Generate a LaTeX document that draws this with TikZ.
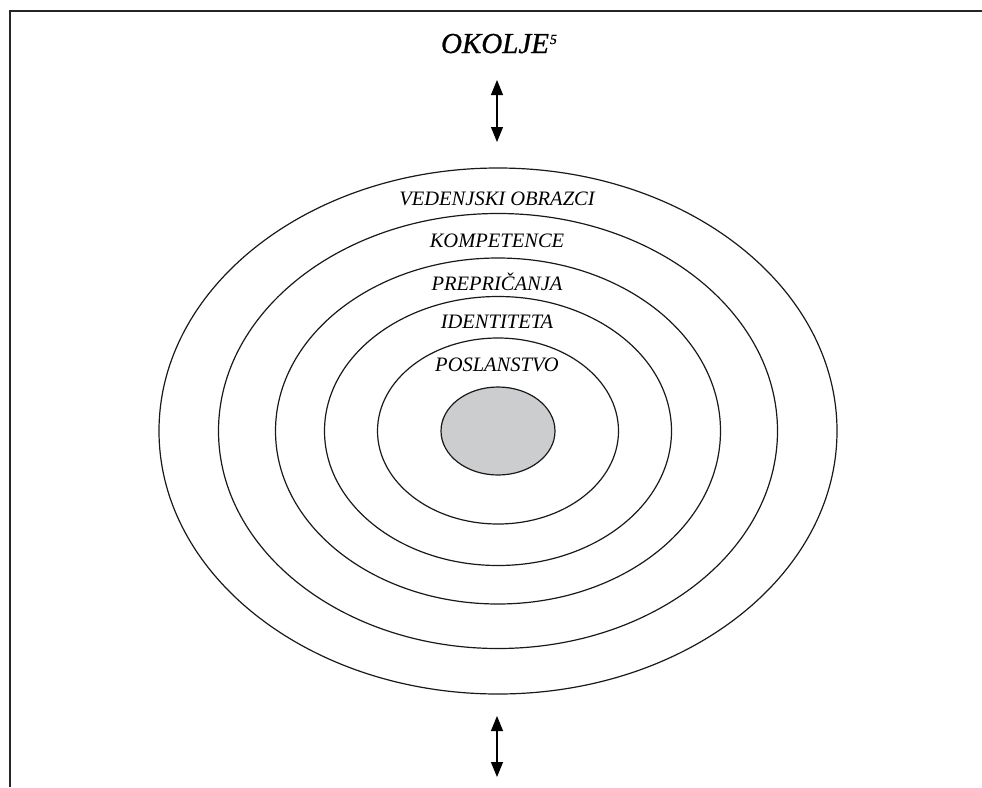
\documentclass[tikz,border=0pt]{standalone}
\usepackage{fontspec}
\setmainfont{Liberation Serif}
\newfontfamily\headfont{Liberation Serif}[ItalicFeatures={FakeBold=0.8}]
\usetikzlibrary{shapes.geometric,arrows.meta}
\definecolor{coregray}{RGB}{204,205,207}
\tikzset{
  ring/.style={draw=black!90, line width=1.2pt, ellipse, inner sep=0pt},
  layerlabel/.style={font=\fontsize{20.5}{22}\selectfont\itshape, anchor=base, inner sep=0pt},
  twoway/.style={line width=1.1pt, {Triangle[length=15pt,width=12pt]}-{Triangle[length=15pt,width=12pt]}},
  frameline/.style={draw=black!85, line width=2pt}
}
\begin{document}
\begin{tikzpicture}[x=1pt,y=-1pt]
  \useasboundingbox (0,0) rectangle (982,787);
  % open frame: top and left edges only
  \coordinate (ftr) at (982,11);
  \coordinate (ftl) at (9.5,11);
  \coordinate (fbl) at (9.5,787);
  \draw[frameline] (ftr) -- (ftl) -- (fbl);

  % concentric layers
  \coordinate (c) at (498,431);
  \node[ring, minimum width=678pt, minimum height=526pt] (vedenje) at (c) {};
  \node[ring, minimum width=559pt, minimum height=435pt] (kompetence) at (c) {};
  \node[ring, minimum width=445pt, minimum height=346pt] (prepricanja) at (c) {};
  \node[ring, minimum width=347pt, minimum height=269pt] (identiteta) at (c) {};
  \node[ring, minimum width=241pt, minimum height=186pt] (poslanstvo) at (c) {};
  \node[ring, fill=coregray, minimum width=114pt, minimum height=88pt] (jedro) at (c) {};

  % layer names
  \node[layerlabel] (tv) at (497,205) {VEDENJSKI OBRAZCI};
  \node[layerlabel] (tk) at (497,247) {KOMPETENCE};
  \node[layerlabel] (tp) at (497,290) {PREPRIČANJA};
  \node[layerlabel] (ti) at (497,328) {IDENTITETA};
  \node[layerlabel] (ts) at (497,371) {POSLANSTVO};

  % environment
  \node[font=\fontsize{29}{32}\selectfont\headfont\itshape, anchor=base, inner sep=0pt] (okolje) at (499,53)
    {OKOLJE\kern1pt\raisebox{9pt}{\fontsize{14}{15}\selectfont 5}};

  % exchange arrows
  \coordinate (a1) at (497,80);
  \coordinate (a2) at (497,142);
  \coordinate (b1) at (497,716);
  \coordinate (b2) at (497,777);
  \draw[twoway] (a1) -- (a2);
  \draw[twoway] (b1) -- (b2);
\end{tikzpicture}
\end{document}
